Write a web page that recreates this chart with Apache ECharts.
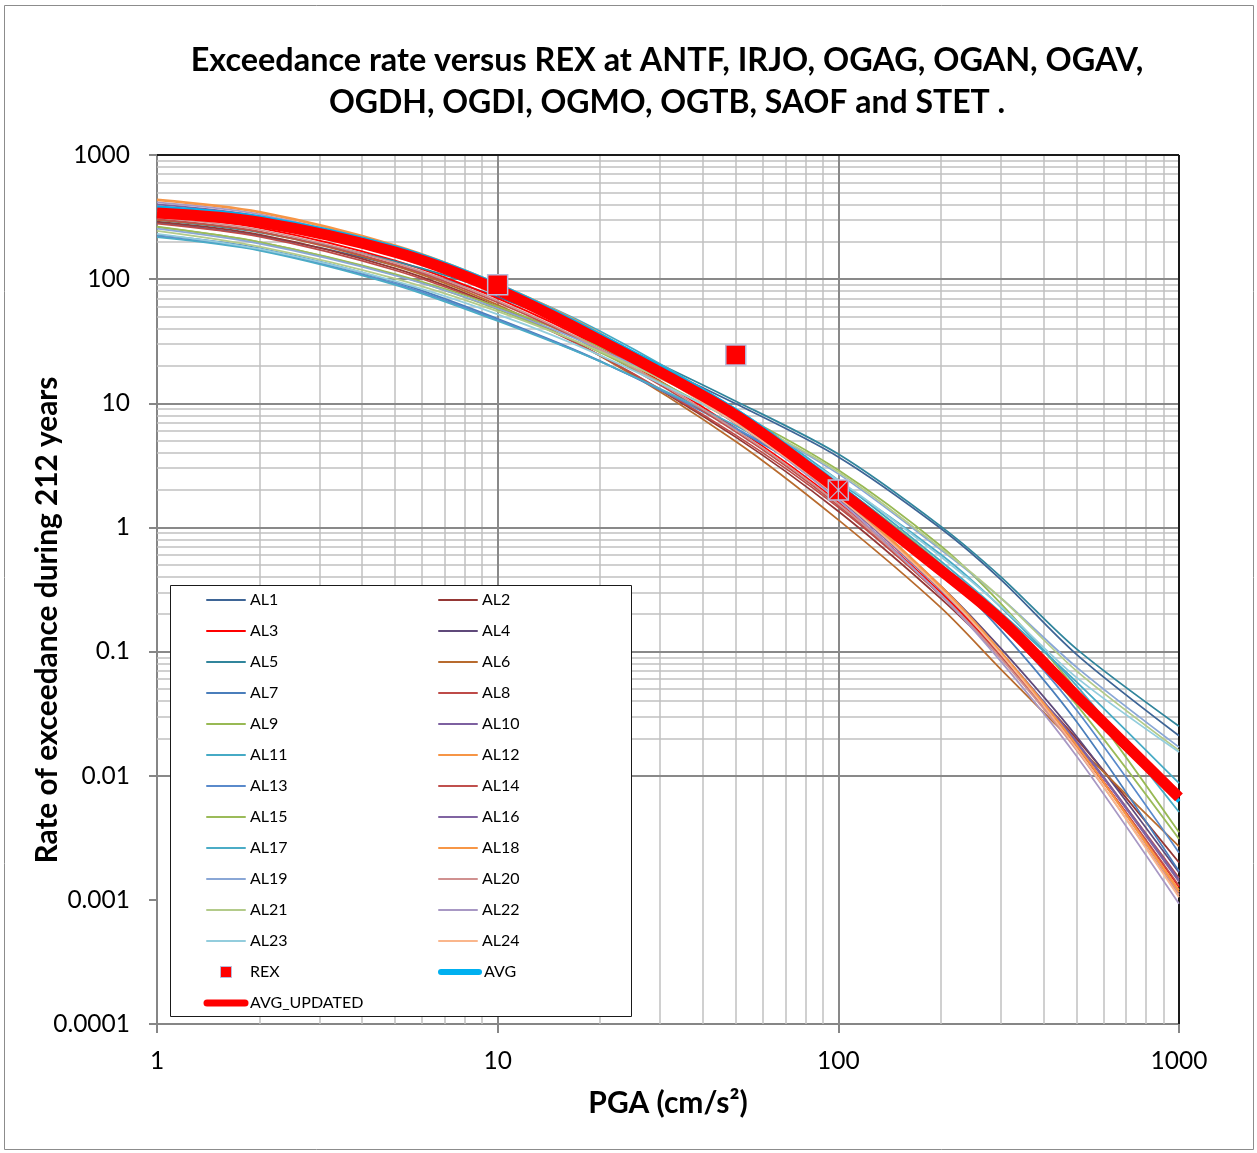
<!DOCTYPE html>
<html>
<head>
<meta charset="utf-8">
<script src="https://cdn.jsdelivr.net/npm/echarts@6/dist/echarts.min.js"></script>
<style>
html, body { margin: 0; padding: 0; background: #fff; }
#chart { width: 1257px; height: 1153px; }
</style>
</head>
<body>
<div id="chart"></div>
<script>
// PGA sample points (cm/s2) shared by every hazard curve
const pga = [1, 2, 5, 10, 20, 50, 100, 200, 300, 500, 1000];

// Annual exceedance rates (during 212 years) for each attenuation law
const al1  = [285, 223, 129, 72, 32.5, 9.9, 3.7, 0.98, 0.38, 0.095, 0.021];
const al2  = [290, 228, 122, 60, 24.2, 5.34, 1.35, 0.267, 0.0902, 0.0199, 0.0020];
const al3  = [325, 259, 141, 70, 28.4, 6.31, 1.6, 0.299, 0.0929, 0.0175, 0.00127];
const al4  = [385, 307, 166, 82, 33.0, 7.21, 1.8, 0.337, 0.106, 0.0208, 0.00166];
const al5  = [300, 238, 139, 78, 34.5, 10.4, 3.9, 1.02, 0.40, 0.105, 0.025];
const al6  = [300, 240, 128, 62, 24.0, 4.92, 1.15, 0.226, 0.072, 0.0176, 0.0027];
const al7  = [228, 177, 95, 48, 21.9, 6.17, 2.0, 0.455, 0.148, 0.0273, 0.0017];
const al8  = [280, 220, 118, 59, 24.3, 5.54, 1.45, 0.284, 0.092, 0.0184, 0.0015];
const al9  = [265, 199, 110, 60, 28.3, 8.48, 2.9, 0.708, 0.243, 0.0489, 0.0035];
const al10 = [400, 321, 173, 85, 33.7, 7.19, 1.75, 0.318, 0.0988, 0.0189, 0.00145];
const al11 = [375, 308, 174, 90, 38.1, 9.0, 2.4, 0.534, 0.206, 0.0571, 0.0087];
const al12 = [440, 350, 188, 92, 36.6, 7.80, 1.9, 0.337, 0.100, 0.0177, 0.00115];
const al13 = [222, 172, 92, 47, 21.7, 6.30, 2.1, 0.501, 0.170, 0.0338, 0.0024];
const al14 = [305, 242, 131, 65, 26.4, 5.89, 1.5, 0.284, 0.0892, 0.0171, 0.0013];
const al15 = [262, 199, 108, 57, 25.7, 7.03, 2.2, 0.509, 0.177, 0.0374, 0.0031];
const al16 = [360, 289, 157, 78, 31.4, 6.84, 1.7, 0.313, 0.0975, 0.0185, 0.0014];
const al17 = [218, 170, 90, 46, 21.7, 6.6, 2.3, 0.605, 0.227, 0.0532, 0.0051];
const al18 = [430, 343, 184, 90, 35.7, 7.60, 1.85, 0.329, 0.0989, 0.0177, 0.0012];
const al19 = [255, 193, 107, 58, 27.2, 8.02, 2.7, 0.66, 0.27, 0.075, 0.017];
const al20 = [315, 250, 135, 67, 27.2, 6.08, 1.55, 0.288, 0.0881, 0.0161, 0.0011];
const al21 = [245, 183, 101, 55, 26.2, 8.01, 2.8, 0.68, 0.27, 0.07, 0.016];
const al22 = [415, 332, 177, 86, 33.6, 6.95, 1.65, 0.284, 0.0833, 0.0144, 0.00093];
const al23 = [232, 175, 96.3, 52, 24.3, 7.15, 2.4, 0.58, 0.23, 0.062, 0.0155];
const al24 = [350, 280, 152, 76, 30.9, 6.90, 1.75, 0.319, 0.0955, 0.0166, 0.00105];

// Mean curves
const avg        = [378, 316, 181, 90, 35.5, 8.8, 2.2, 0.49, 0.195, 0.046, 0.0062];
const avgUpdated = [341, 288, 165, 82, 32, 8.0, 2.0, 0.45, 0.18, 0.044, 0.0067];

// Observed REX points
const rexPga  = [10, 50, 100];
const rexRate = [90, 24.5, 2.0];

const alNames = ['AL1', 'AL2', 'AL3', 'AL4', 'AL5', 'AL6', 'AL7', 'AL8', 'AL9', 'AL10', 'AL11', 'AL12',
                 'AL13', 'AL14', 'AL15', 'AL16', 'AL17', 'AL18', 'AL19', 'AL20', 'AL21', 'AL22', 'AL23', 'AL24'];
const alValues = [al1, al2, al3, al4, al5, al6, al7, al8, al9, al10, al11, al12,
                  al13, al14, al15, al16, al17, al18, al19, al20, al21, al22, al23, al24];
const alColors = ['#3E6596', '#953735', '#FF0000', '#5F497A', '#31859C', '#B86B2E',
                  '#4A7EBB', '#BE4B48', '#98B954', '#7D60A0', '#46AAC5', '#F69546',
                  '#5A8ACB', '#C0504D', '#9BBB59', '#8064A2', '#4BACC6', '#F79646',
                  '#8AA7D6', '#D09190', '#B3CB8A', '#A898C4', '#93CDDD', '#FAB68C'];

const titleLines = ['Exceedance rate versus REX at ANTF, IRJO, OGAG, OGAN, OGAV,',
                    'OGDH, OGDI, OGMO, OGTB, SAOF and STET .'];
const xTitle = 'PGA (cm/s\u00B2)';
const yTitle = 'Rate of exceedance during 212 years';

const FONT = 'Lato, "Open Sans", sans-serif';

function pairs(values) {
  return pga.map((x, i) => [x, values[i]]);
}

// Log-decade grid: light lines at 2..9 of each decade, darker lines on decades
const xDecades = [0, 1, 2];
const yDecades = [-4, -3, -2, -1, 0, 1, 2];
const gridLines = [];
const minorStyle = { color: '#C0C0C0', width: 1.5, type: 'solid' };
const majorStyle = { color: '#898989', width: 2, type: 'solid' };
xDecades.forEach(n => {
  for (let k = 2; k <= 9; k++) gridLines.push({ xAxis: k * Math.pow(10, n), lineStyle: minorStyle });
});
yDecades.forEach(n => {
  for (let k = 2; k <= 9; k++) gridLines.push({ yAxis: k * Math.pow(10, n), lineStyle: minorStyle });
});
[10, 100].forEach(v => gridLines.push({ xAxis: v, lineStyle: majorStyle }));
[0.001, 0.01, 0.1, 1, 10, 100].forEach(v => gridLines.push({ yAxis: v, lineStyle: majorStyle }));
gridLines.push({ xAxis: 1000, lineStyle: { color: '#1a1a1a', width: 2, type: 'solid' } });
gridLines.push({ yAxis: 1000, lineStyle: { color: '#1a1a1a', width: 2, type: 'solid' } });

const series = [];
series.push({
  name: 'grid',
  type: 'line',
  data: [[1, 1]],
  symbol: 'none',
  lineStyle: { opacity: 0 },
  silent: true,
  z: 1,
  markLine: {
    z: 1,
    silent: true,
    symbol: ['none', 'none'],
    label: { show: false },
    animation: false,
    data: gridLines
  }
});

alNames.forEach((name, i) => {
  series.push({
    name: name,
    type: 'line',
    data: pairs(alValues[i]),
    smooth: 0.3,
    symbol: 'none',
    lineStyle: { width: 1.75, color: alColors[i] },
    itemStyle: { color: alColors[i] },
    z: 2,
    silent: true
  });
});

series.push({
  name: 'AVG',
  type: 'line',
  data: pairs(avg),
  smooth: 0.3,
  symbol: 'none',
  lineStyle: { width: 4, color: '#00B0F0' },
  itemStyle: { color: '#00B0F0' },
  z: 2.5,
  silent: true
});
series.push({
  name: 'AVG_UPDATED',
  type: 'line',
  data: pairs(avgUpdated),
  smooth: 0.3,
  symbol: 'none',
  lineStyle: { width: 11, color: '#FF0000' },
  itemStyle: { color: '#FF0000' },
  z: 2.6,
  silent: true
});
series.push({
  name: 'REX',
  type: 'scatter',
  data: rexPga.map((x, i) => [x, rexRate[i]]),
  symbol: 'rect',
  symbolSize: 20,
  itemStyle: { color: '#FF0000', borderColor: '#B7BCDB', borderWidth: 1.5, opacity: 1 },
  z: 2.7,
  silent: true
});
// Star marker overlaid on the last REX point
series.push({
  name: 'REX star',
  type: 'scatter',
  data: [[rexPga[2], rexRate[2]]],
  symbol: 'path://M0,0.8L0.8,0L20,19.2L19.2,20ZM19.2,0L20,0.8L0.8,20L0,19.2ZM9.4,0H10.6V20H9.4Z',
  symbolSize: 20,
  itemStyle: { color: '#B7BCDB', opacity: 1 },
  z: 2.8,
  silent: true
});

const legendData = alNames.map(n => ({ name: n, itemStyle: { opacity: 0 } }));
legendData.push({ name: 'REX', icon: 'path://M0,0H10V10H0Z', itemStyle: { opacity: 1, borderColor: '#B7BCDB', borderWidth: 1 } });
legendData.push({ name: 'AVG', itemStyle: { opacity: 0 }, lineStyle: { width: 6, cap: 'round' } });
legendData.push({ name: 'AVG_UPDATED', itemStyle: { opacity: 0 }, lineStyle: { width: 7, cap: 'round' } });

const axisLabelStyle = { fontFamily: FONT, fontSize: 24.5, color: '#000' };
const tickText = v => String(Number(Number(v).toPrecision(3)));

const option = {
  animation: false,
  backgroundColor: '#fff',
  grid: { left: 157, right: 78, top: 155, bottom: 129, containLabel: false },
  xAxis: {
    type: 'log',
    logBase: 10,
    min: 1,
    max: 1000,
    interval: 1,
    splitLine: { show: false },
    axisLine: { show: true, onZero: false, lineStyle: { color: '#868686', width: 2 } },
    axisTick: { show: true, length: 9, lineStyle: { color: '#868686', width: 2 } },
    minorTick: { show: false },
    axisLabel: Object.assign({ margin: 25, formatter: tickText }, axisLabelStyle)
  },
  yAxis: {
    type: 'log',
    logBase: 10,
    min: 0.0001,
    max: 1000,
    interval: 1,
    splitLine: { show: false },
    axisLine: { show: true, onZero: false, lineStyle: { color: '#868686', width: 2 } },
    axisTick: { show: true, length: 8, lineStyle: { color: '#868686', width: 2 } },
    minorTick: { show: false },
    axisLabel: Object.assign({ margin: 27, formatter: tickText }, axisLabelStyle)
  },
  legend: {
    z: 10,
    left: 203.5,
    top: 589.5,
    width: 470,
    padding: 0,
    orient: 'horizontal',
    itemWidth: 38,
    itemHeight: 11,
    itemGap: 10,
    selectedMode: false,
    textStyle: { fontFamily: FONT, fontSize: 16, color: '#000', width: 178, height: 21, lineHeight: 21 },
    lineStyle: { cap: 'round' },
    data: legendData
  },
  graphic: [
    { type: 'rect', z: 0, silent: true,
      shape: { x: 4.5, y: 5.5, width: 1249, height: 1144 },
      style: { fill: 'none', stroke: '#8c8c8c', lineWidth: 1 } },
    { type: 'rect', z: 8, silent: true,
      shape: { x: 170.5, y: 585.5, width: 461, height: 431 },
      style: { fill: '#fff', stroke: '#1a1a1a', lineWidth: 1 } },
    { type: 'text', z: 8, x: 667, y: 61, silent: true,
      style: { text: titleLines[0], font: 'bold 32.4px ' + FONT, fill: '#000', align: 'center', verticalAlign: 'middle' } },
    { type: 'text', z: 8, x: 667, y: 103, silent: true,
      style: { text: titleLines[1], font: 'bold 32px ' + FONT, fill: '#000', align: 'center', verticalAlign: 'middle' } },
    { type: 'text', z: 8, x: 668, y: 1103, silent: true,
      style: { text: xTitle, font: 'bold 30px ' + FONT, fill: '#000', align: 'center', verticalAlign: 'middle' } },
    { type: 'text', z: 8, x: 47, y: 620, rotation: Math.PI / 2, silent: true,
      style: { text: yTitle, font: 'bold 29.8px ' + FONT, fill: '#000', align: 'center', verticalAlign: 'middle' } }
  ],
  series: series
};

const chart = echarts.init(document.getElementById('chart'), null, { renderer: 'canvas' });
chart.setOption(option);
</script>
</body>
</html>
